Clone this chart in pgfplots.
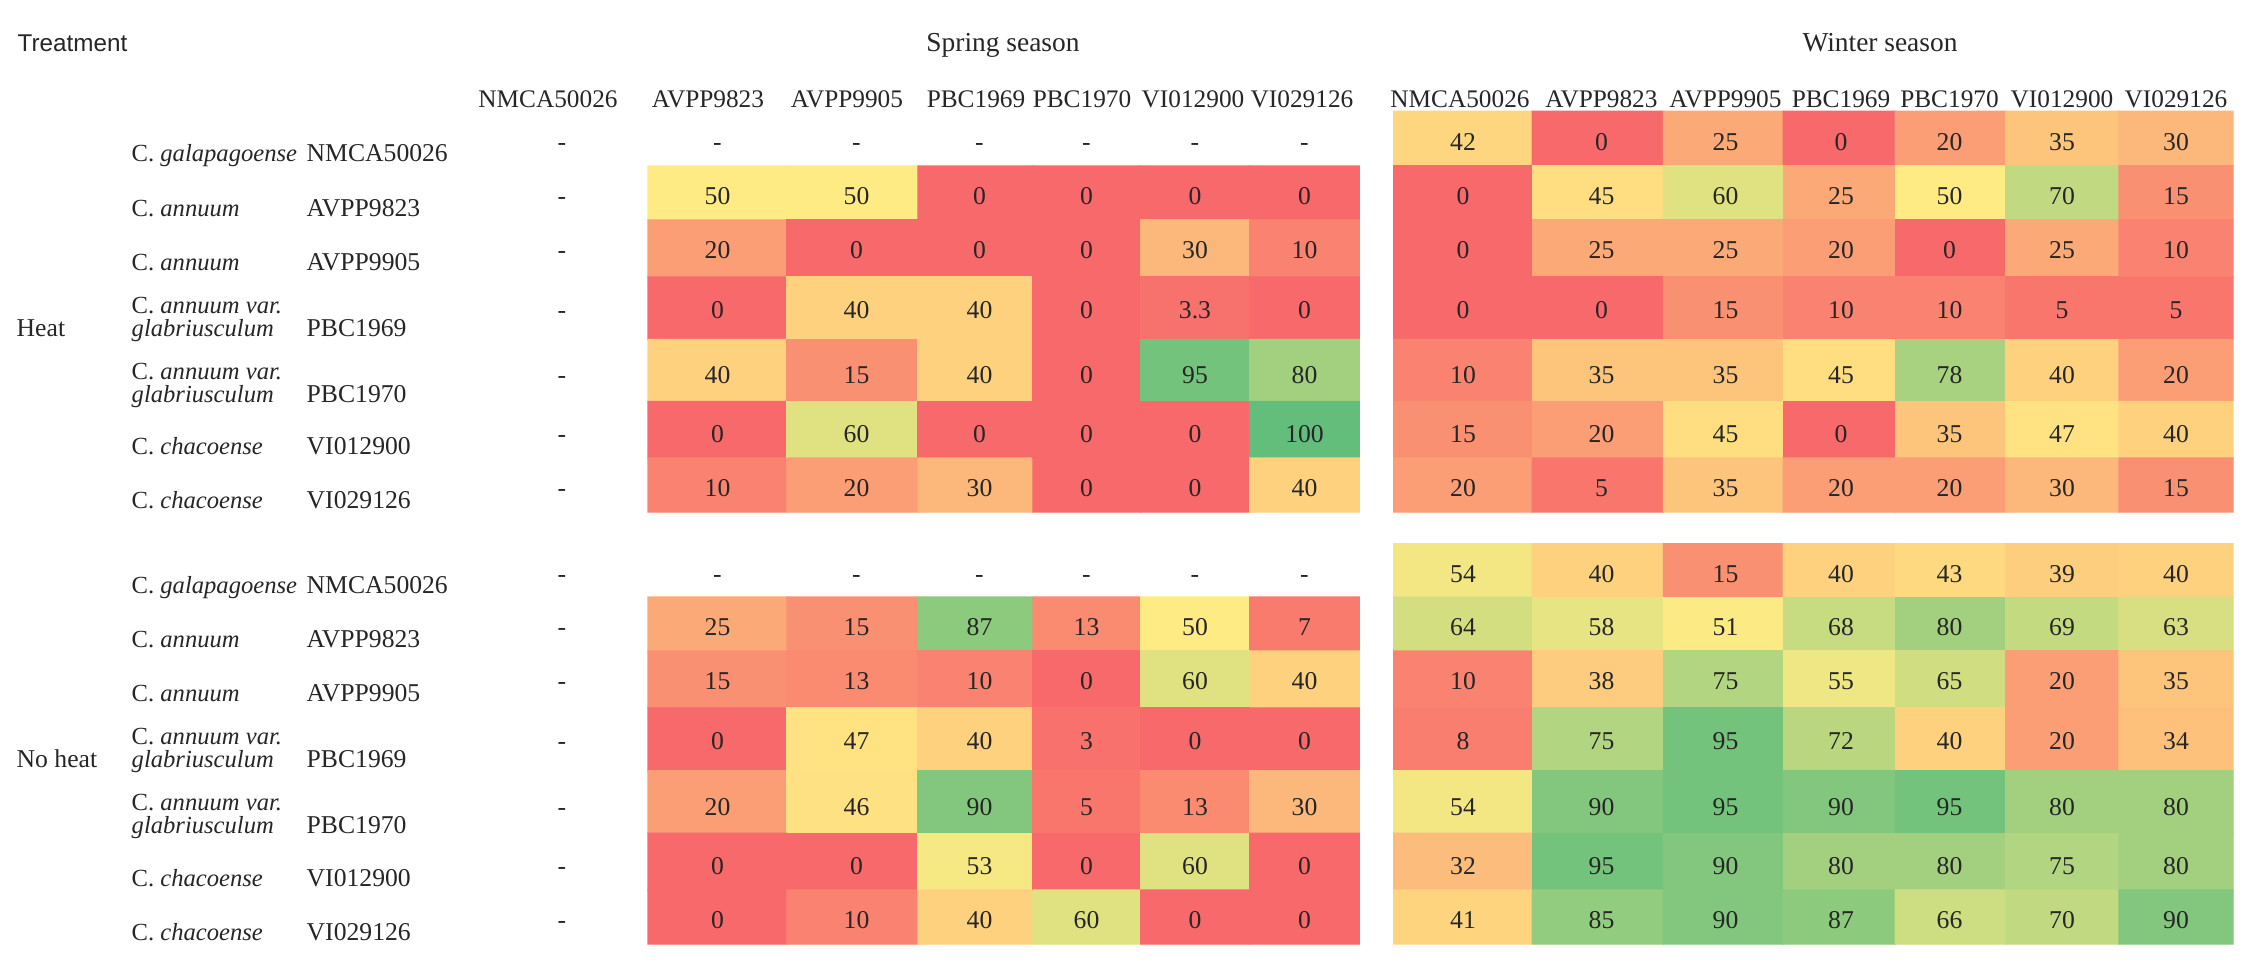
\documentclass[border=0pt]{standalone}
\usepackage{fontspec}
\setmainfont{Liberation Serif}
\newfontfamily\sansf{Liberation Sans}
\usepackage{pgfplots}
\usepackage{pgfplotstable}
\pgfplotsset{compat=1.18}

% cell centres in pixels of the original table (y from the top)
% spring: heat treatment
\pgfplotstableread{
x y v
717.5 193 50
856.5 193 50
979.5 193 0
1086.5 193 0
1195 193 0
1304.5 193 0
717.5 247 20
856.5 247 0
979.5 247 0
1086.5 247 0
1195 247 30
1304.5 247 10
717.5 307 0
856.5 307 40
979.5 307 40
1086.5 307 0
1195 307 3.3
1304.5 307 0
717.5 372 40
856.5 372 15
979.5 372 40
1086.5 372 0
1195 372 95
1304.5 372 80
717.5 431 0
856.5 431 60
979.5 431 0
1086.5 431 0
1195 431 0
1304.5 431 100
717.5 485 10
856.5 485 20
979.5 485 30
1086.5 485 0
1195 485 0
1304.5 485 40
}\springheat

% spring: no heat
\pgfplotstableread{
x y v
717.5 624 25
856.5 624 15
979.5 624 87
1086.5 624 13
1195 624 50
1304.5 624 7
717.5 678 15
856.5 678 13
979.5 678 10
1086.5 678 0
1195 678 60
1304.5 678 40
717.5 738 0
856.5 738 47
979.5 738 40
1086.5 738 3
1195 738 0
1304.5 738 0
717.5 803.5 20
856.5 803.5 46
979.5 803.5 90
1086.5 803.5 5
1195 803.5 13
1304.5 803.5 30
717.5 863 0
856.5 863 0
979.5 863 53
1086.5 863 0
1195 863 60
1304.5 863 0
717.5 917 0
856.5 917 10
979.5 917 40
1086.5 917 60
1195 917 0
1304.5 917 0
}\springnoheat

% winter: heat treatment
\pgfplotstableread{
x y v
1463 138.5 42
1601.5 138.5 0
1725.5 138.5 25
1841 138.5 0
1949.5 138.5 20
2062 138.5 35
2176 138.5 30
1463 193 0
1601.5 193 45
1725.5 193 60
1841 193 25
1949.5 193 50
2062 193 70
2176 193 15
1463 247 0
1601.5 247 25
1725.5 247 25
1841 247 20
1949.5 247 0
2062 247 25
2176 247 10
1463 307 0
1601.5 307 0
1725.5 307 15
1841 307 10
1949.5 307 10
2062 307 5
2176 307 5
1463 372 10
1601.5 372 35
1725.5 372 35
1841 372 45
1949.5 372 78
2062 372 40
2176 372 20
1463 431 15
1601.5 431 20
1725.5 431 45
1841 431 0
1949.5 431 35
2062 431 47
2176 431 40
1463 485 20
1601.5 485 5
1725.5 485 35
1841 485 20
1949.5 485 20
2062 485 30
2176 485 15
}\winterheat

% winter: no heat
\pgfplotstableread{
x y v
1463 570.5 54
1601.5 570.5 40
1725.5 570.5 15
1841 570.5 40
1949.5 570.5 43
2062 570.5 39
2176 570.5 40
1463 624 64
1601.5 624 58
1725.5 624 51
1841 624 68
1949.5 624 80
2062 624 69
2176 624 63
1463 678 10
1601.5 678 38
1725.5 678 75
1841 678 55
1949.5 678 65
2062 678 20
2176 678 35
1463 738 8
1601.5 738 75
1725.5 738 95
1841 738 72
1949.5 738 40
2062 738 20
2176 738 34
1463 803.5 54
1601.5 803.5 90
1725.5 803.5 95
1841 803.5 90
1949.5 803.5 95
2062 803.5 80
2176 803.5 80
1463 863 32
1601.5 863 95
1725.5 863 90
1841 863 80
1949.5 863 80
2062 863 75
2176 863 80
1463 917 41
1601.5 917 85
1725.5 917 90
1841 917 87
1949.5 917 66
2062 917 70
2176 917 90
}\winternoheat

% cells without a value
\pgfplotstableread{
x y v
562 138.5 -
717.5 138.5 -
856.5 138.5 -
979.5 138.5 -
1086.5 138.5 -
1195 138.5 -
1304.5 138.5 -
562 193 -
562 247 -
562 307 -
562 372 -
562 431 -
562 485 -
562 570.5 -
717.5 570.5 -
856.5 570.5 -
979.5 570.5 -
1086.5 570.5 -
1195 570.5 -
1304.5 570.5 -
562 624 -
562 678 -
562 738 -
562 803.5 -
562 863 -
562 917 -
}\dashes

\tikzset{
  lab/.style={inner sep=0pt, text height=0.68em, text depth=0pt, text=black!85,
    font=\fontsize{7.3}{8}\selectfont},
  spc/.style={lab, anchor=west, font=\fontsize{7}{8}\selectfont},
  acc/.style={lab, anchor=west},
  hdr/.style={lab, font=\fontsize{7.2}{8}\selectfont},
}

\begin{document}
\begin{tikzpicture}
\begin{axis}[
  width=22.53cm, height=9.66cm, scale only axis,
  xmin=0, xmax=2253, ymin=0, ymax=966, y dir=reverse,
  hide axis, clip=false,
  colormap={excel}{rgb255=(248,105,107) rgb255=(255,235,132) rgb255=(99,190,123)},
  point meta min=0, point meta max=100,
  every node near coord/.append style={anchor=center, inner sep=0pt,
    text height=0.68em, text depth=0pt, text=black!85,
    font=\fontsize{7.3}{8}\selectfont},
]
\path[draw=none] (axis cs:0,0) rectangle (axis cs:2253,966);

% coloured cells
\addplot[matrix plot*, mesh/cols=6, mesh/rows=6, point meta=explicit]
  table[x=x, y=y, meta=v] {\springheat};
\addplot[matrix plot*, mesh/cols=6, mesh/rows=6, point meta=explicit]
  table[x=x, y=y, meta=v] {\springnoheat};
\addplot[matrix plot*, mesh/cols=7, mesh/rows=7, point meta=explicit]
  table[x=x, y=y, meta=v] {\winterheat};
\addplot[matrix plot*, mesh/cols=7, mesh/rows=7, point meta=explicit]
  table[x=x, y=y, meta=v] {\winternoheat};

% values in the cells
\addplot[only marks, mark=none, nodes near coords, point meta=explicit symbolic]
  table[x=x, y=y, meta=v] {\springheat};
\addplot[only marks, mark=none, nodes near coords, point meta=explicit symbolic]
  table[x=x, y=y, meta=v] {\springnoheat};
\addplot[only marks, mark=none, nodes near coords, point meta=explicit symbolic]
  table[x=x, y=y, meta=v] {\winterheat};
\addplot[only marks, mark=none, nodes near coords, point meta=explicit symbolic]
  table[x=x, y=y, meta=v] {\winternoheat};
\addplot[only marks, mark=none, nodes near coords, point meta=explicit symbolic]
  table[x=x, y=y, meta=v] {\dashes};

% titles
\node[lab, anchor=west, font=\sansf\fontsize{6.9}{8}\selectfont] at (axis cs:17,40) {Treatment};
\node[lab, font=\fontsize{7.8}{9}\selectfont] at (axis cs:1003,40) {Spring season};
\node[lab, font=\fontsize{7.8}{9}\selectfont] at (axis cs:1880,40) {Winter season};

% column headers
\node[hdr] at (axis cs:548,96) {NMCA50026};
\node[hdr] at (axis cs:708,96) {AVPP9823};
\node[hdr] at (axis cs:847,96) {AVPP9905};
\node[hdr] at (axis cs:976,96) {PBC1969};
\node[hdr] at (axis cs:1082,96) {PBC1970};
\node[hdr] at (axis cs:1193,96) {VI012900};
\node[hdr] at (axis cs:1302,96) {VI029126};
\node[hdr] at (axis cs:1460,96) {NMCA50026};
\node[hdr] at (axis cs:1601.5,96) {AVPP9823};
\node[hdr] at (axis cs:1725.5,96) {AVPP9905};
\node[hdr] at (axis cs:1841,96) {PBC1969};
\node[hdr] at (axis cs:1949.5,96) {PBC1970};
\node[hdr] at (axis cs:2062,96) {VI012900};
\node[hdr] at (axis cs:2176,96) {VI029126};

% row labels: heat
\node[acc] at (axis cs:16,325) {Heat};
\node[spc] at (axis cs:131,150) {C. \textit{galapagoense}};
\node[acc] at (axis cs:306,150) {NMCA50026};
\node[spc] at (axis cs:131,205) {C. \textit{annuum}};
\node[acc] at (axis cs:306,205) {AVPP9823};
\node[spc] at (axis cs:131,259) {C. \textit{annuum}};
\node[acc] at (axis cs:306,259) {AVPP9905};
\node[spc] at (axis cs:131,302) {C. \textit{annuum var.}};
\node[spc] at (axis cs:131,325) {\textit{glabriusculum}};
\node[acc] at (axis cs:306,325) {PBC1969};
\node[spc] at (axis cs:131,368) {C. \textit{annuum var.}};
\node[spc] at (axis cs:131,391) {\textit{glabriusculum}};
\node[acc] at (axis cs:306,391) {PBC1970};
\node[spc] at (axis cs:131,443) {C. \textit{chacoense}};
\node[acc] at (axis cs:306,443) {VI012900};
\node[spc] at (axis cs:131,497) {C. \textit{chacoense}};
\node[acc] at (axis cs:306,497) {VI029126};

% row labels: no heat
\node[acc] at (axis cs:16,756) {No heat};
\node[spc] at (axis cs:131,582) {C. \textit{galapagoense}};
\node[acc] at (axis cs:306,582) {NMCA50026};
\node[spc] at (axis cs:131,636) {C. \textit{annuum}};
\node[acc] at (axis cs:306,636) {AVPP9823};
\node[spc] at (axis cs:131,690) {C. \textit{annuum}};
\node[acc] at (axis cs:306,690) {AVPP9905};
\node[spc] at (axis cs:131,733) {C. \textit{annuum var.}};
\node[spc] at (axis cs:131,756) {\textit{glabriusculum}};
\node[acc] at (axis cs:306,756) {PBC1969};
\node[spc] at (axis cs:131,799) {C. \textit{annuum var.}};
\node[spc] at (axis cs:131,822) {\textit{glabriusculum}};
\node[acc] at (axis cs:306,822) {PBC1970};
\node[spc] at (axis cs:131,875) {C. \textit{chacoense}};
\node[acc] at (axis cs:306,875) {VI012900};
\node[spc] at (axis cs:131,929) {C. \textit{chacoense}};
\node[acc] at (axis cs:306,929) {VI029126};
\end{axis}
\end{tikzpicture}
\end{document}
